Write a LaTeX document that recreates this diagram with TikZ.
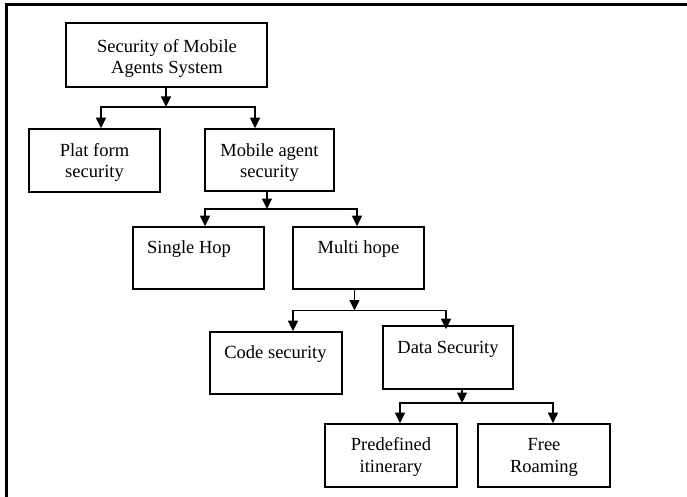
\documentclass[tikz,border=0pt]{standalone}
\usepackage{fontspec}
\setmainfont{Liberation Serif}
\usetikzlibrary{arrows.meta,calc}
\begin{document}
\begin{tikzpicture}[x=1pt,y=-1pt,
  box/.style={draw,line width=1.8pt,rectangle,inner sep=0pt},
  txt/.style={anchor=base,inner sep=0pt,font=\fontsize{18.5}{21.5}\selectfont},
  arr/.style={line width=1.6pt,-{Triangle[length=10.5pt,width=10pt]}},
  ln/.style={line width=1.6pt}]
\useasboundingbox (0,0) rectangle (687,497);
% outer frame
\coordinate (fb) at (6.8,497);
\coordinate (ft) at (6.8,4.3);
\coordinate (fr) at (687,4.3);
\draw[line width=2.8pt] (fb) -- (ft) -- (fr);
% boxes
\node[box,minimum width=201pt,minimum height=64pt] (top) at (166.5,55) {};
\node[box,minimum width=131pt,minimum height=63pt] (plat) at (94.5,160.5) {};
\node[box,minimum width=129pt,minimum height=62pt] (mob) at (269.5,160) {};
\node[box,minimum width=131pt,minimum height=62pt] (single) at (198.5,258) {};
\node[box,minimum width=131pt,minimum height=62pt] (multi) at (358.5,258) {};
\node[box,minimum width=132pt,minimum height=62pt] (code) at (276,363) {};
\node[box,minimum width=130pt,minimum height=63pt] (data) at (448,357.5) {};
\node[box,minimum width=132pt,minimum height=63pt] (pre) at (391,455.5) {};
\node[box,minimum width=132pt,minimum height=63pt] (free) at (544,455.5) {};
% texts
\node[txt] (t1a) at (167,53) {Security of Mobile};
\node[txt] (t1b) at (167,74) {Agents System};
\node[txt] (t2a) at (94.5,157) {Plat form};
\node[txt] (t2b) at (94.5,178) {security};
\node[txt] (t3a) at (269.5,157) {Mobile agent};
\node[txt] (t3b) at (269.5,178) {security};
\node[txt] (t4) at (189,253) {Single Hop};
\node[txt] (t5) at (358.5,253) {Multi hope};
\node[txt] (t6) at (275.5,358) {Code security};
\node[txt] (t7) at (448,353) {Data Security};
\node[txt] (t8a) at (391,450) {Predefined};
\node[txt] (t8b) at (391,472) {itinerary};
\node[txt] (t9a) at (544,450) {Free};
\node[txt] (t9b) at (544,472) {Roaming};
% junctions
\coordinate (j1) at (166,107);
\coordinate (j2) at (267,209);
\coordinate (j3) at (354.5,310.5);
\coordinate (j4) at (462,403);
% connectors
\draw[arr] (top.south -| j1) -- (j1);
\draw[arr] (j1) -| ([xshift=6.5pt]plat.north);
\draw[arr] (j1) -| ([xshift=-14.5pt]mob.north);
\draw[arr] (mob.south -| j2) -- (j2);
\draw[arr] (j2) -| ([xshift=6.5pt]single.north);
\draw[arr] (j2) -| ([xshift=-1.5pt]multi.north);
\draw[arr] (multi.south -| j3) -- (j3);
\draw[arr] (j3) -| ([xshift=17pt]code.north);
\draw[arr] (j3) -| ([xshift=-2pt,yshift=-4pt]data.north);
\draw[arr] (data.south -| j4) -- (j4);
\draw[arr] (j4) -| ([xshift=9pt]pre.north);
\draw[arr] (j4) -| ([xshift=9pt]free.north);
\end{tikzpicture}
\end{document}
